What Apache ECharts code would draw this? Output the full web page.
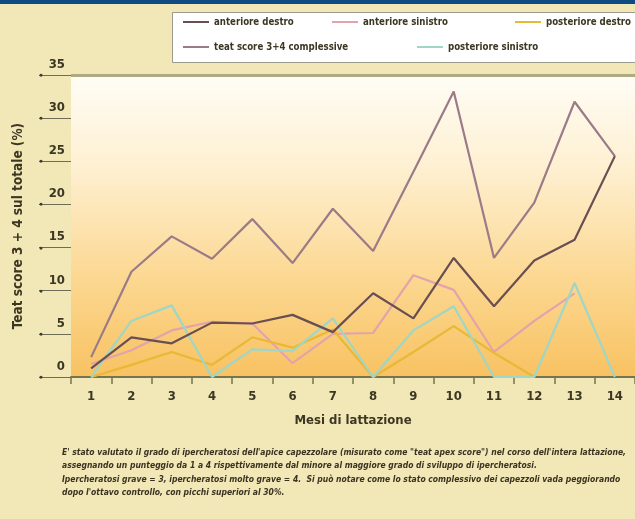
<!DOCTYPE html>
<html>
<head>
<meta charset="utf-8">
<script src="https://cdn.jsdelivr.net/npm/echarts@6/dist/echarts.min.js"></script>
<style>
  html, body { margin: 0; padding: 0; background: #f2e7b6; }
  #chart { width: 635px; height: 519px; }
</style>
</head>
<body>
<div id="chart"></div>
<script>
// Months of lactation on the x axis
const months = ['1', '2', '3', '4', '5', '6', '7', '8', '9', '10', '11', '12', '13', '14'];

// Share of teats with score 3+4 (%), per quarter and overall
const anterioreDestro    = [1.0, 4.6, 3.9, 6.3, 6.2, 7.2, 5.2, 9.7, 6.8, 13.8, 8.2, 13.5, 15.9, 25.6];
const anterioreSinistro  = [1.5, 3.1, 5.4, 6.4, 6.2, 1.6, 5.0, 5.1, 11.8, 10.1, 2.9, 6.5, 9.7, null];
const posterioreDestro   = [0, 1.4, 2.9, 1.4, 4.6, 3.4, 5.5, 0, 2.9, 5.9, 2.8, 0, null, null];
const teatScoreTotale    = [2.3, 12.2, 16.3, 13.7, 18.3, 13.2, 19.5, 14.6, 23.8, 33.1, 13.8, 20.2, 31.9, 25.6];
const posterioreSinistro = [0, 6.5, 8.3, 0, 3.2, 3.0, 6.8, 0, 5.4, 8.2, 0, 0, 10.9, 0];

const yTicks = { min: 0, max: 35, step: 5 };

const FONT = "'Liberation Sans Narrow', 'DejaVu Sans Condensed', 'Liberation Sans', sans-serif";
const INK = '#3b3722';
const OLIVE = '#77744f';

const caption =
  "E' stato valutato il grado di ipercheratosi dell'apice capezzolare (misurato come \"teat apex score\") nel corso dell'intera lattazione,\n" +
  "assegnando un punteggio da 1 a 4 rispettivamente dal minore al maggiore grado di sviluppo di ipercheratosi.\n" +
  "Ipercheratosi grave = 3, ipercheratosi molto grave = 4.  Si può notare come lo stato complessivo dei capezzoli vada peggiorando\n" +
  "dopo l'ottavo controllo, con picchi superiori al 30%.";

const seriesDefs = [
  { name: 'teat score 3+4 complessive', data: teatScoreTotale, color: '#9c7b88' },
  { name: 'anteriore sinistro', data: anterioreSinistro, color: '#e3a3ab' },
  { name: 'posteriore destro', data: posterioreDestro, color: '#e9b834' },
  { name: 'posteriore sinistro', data: posterioreSinistro, color: '#9fd6c6' },
  { name: 'anteriore destro', data: anterioreDestro, color: '#6a4f52' }
];

const legendText = { fontFamily: FONT, fontWeight: 'bold', fontSize: 9.6, color: INK };
function legendItem(name, left, top) {
  return {
    data: [name], left: left, top: top, orient: 'horizontal',
    icon: 'rect', itemWidth: 26, itemHeight: 2, itemGap: 0,
    textStyle: legendText, padding: 0
  };
}

const chart = echarts.init(document.getElementById('chart'), null, { renderer: 'canvas' });

chart.setOption({
  backgroundColor: '#f2e7b6',
  animation: false,
  title: {
    text: caption,
    left: 62, top: 446, padding: 0,
    textStyle: {
      fontFamily: FONT, fontSize: 8.5, fontWeight: 'bold', fontStyle: 'italic',
      color: '#3a3322', lineHeight: 13.5
    }
  },
  graphic: [
    { type: 'rect', shape: { x: 0, y: 0, width: 635, height: 4 }, style: { fill: '#0d4b82' }, z: 0 },
    { type: 'rect', shape: { x: 172.5, y: 12.5, width: 480, height: 50 },
      style: { fill: '#ffffff', stroke: '#9c9a8a', lineWidth: 1 }, z: 0 }
  ],
  legend: [
    legendItem('anteriore destro', 183, 17),
    legendItem('anteriore sinistro', 332, 17),
    legendItem('posteriore destro', 515, 17),
    legendItem('teat score 3+4 complessive', 183, 42),
    legendItem('posteriore sinistro', 417, 42)
  ],
  grid: {
    left: 71, top: 75, width: 567, height: 302,
    show: true, borderWidth: 0,
    backgroundColor: {
      type: 'linear', x: 0, y: 0, x2: 0, y2: 1,
      colorStops: [
        { offset: 0, color: '#fffdf6' },
        { offset: 0.3, color: '#fef0d2' },
        { offset: 0.65, color: '#fcd995' },
        { offset: 1, color: '#f8c262' }
      ]
    }
  },
  xAxis: {
    type: 'category',
    data: months,
    boundaryGap: true,
    name: 'Mesi di lattazione',
    nameLocation: 'middle',
    nameGap: 37,
    nameTextStyle: { fontFamily: FONT, fontWeight: 'bold', fontSize: 13, color: INK },
    axisLine: { lineStyle: { color: OLIVE, width: 2 } },
    axisTick: { show: true, length: 7, lineStyle: { color: OLIVE, width: 1.5 } },
    axisLabel: { margin: 13, fontFamily: FONT, fontWeight: 'bold', fontSize: 13, color: INK },
    splitLine: { show: false }
  },
  yAxis: [
    {
      type: 'value',
      min: yTicks.min, max: yTicks.max, interval: yTicks.step,
      name: 'Teat score 3 + 4 sul totale (%)',
      nameLocation: 'middle',
      nameGap: 46,
      nameTextStyle: { fontFamily: FONT, fontWeight: 'bold', fontSize: 13.5, color: INK },
      axisLine: { show: false },
      axisTick: { show: true, inside: false, length: 32, lineStyle: { color: '#6f6d55', width: 1 } },
      axisLabel: {
        margin: 6, fontFamily: FONT, fontWeight: 'bold', fontSize: 13, color: INK,
        verticalAlign: 'bottom', padding: [0, 0, 4, 0]
      },
      splitLine: {
        show: true,
        lineStyle: {
          width: 3,
          color: ['rgba(0,0,0,0)', 'rgba(0,0,0,0)', 'rgba(0,0,0,0)', 'rgba(0,0,0,0)',
                  'rgba(0,0,0,0)', 'rgba(0,0,0,0)', 'rgba(0,0,0,0)', '#aeab84']
        }
      }
    },
    {
      // bullet at the outer end of each y tick
      type: 'value',
      min: yTicks.min, max: yTicks.max, interval: yTicks.step,
      position: 'left',
      axisLine: { show: false },
      axisTick: { show: false },
      splitLine: { show: false },
      axisLabel: {
        margin: 28, formatter: () => '●', fontSize: 7, color: '#3f3d30',
        verticalAlign: 'middle'
      }
    }
  ],
  series: seriesDefs.map(s => ({
    name: s.name,
    type: 'line',
    data: s.data,
    yAxisIndex: 0,
    symbol: 'none',
    connectNulls: false,
    lineStyle: { color: s.color, width: 2.2 },
    itemStyle: { color: s.color },
    z: 3
  }))
});
</script>
</body>
</html>
